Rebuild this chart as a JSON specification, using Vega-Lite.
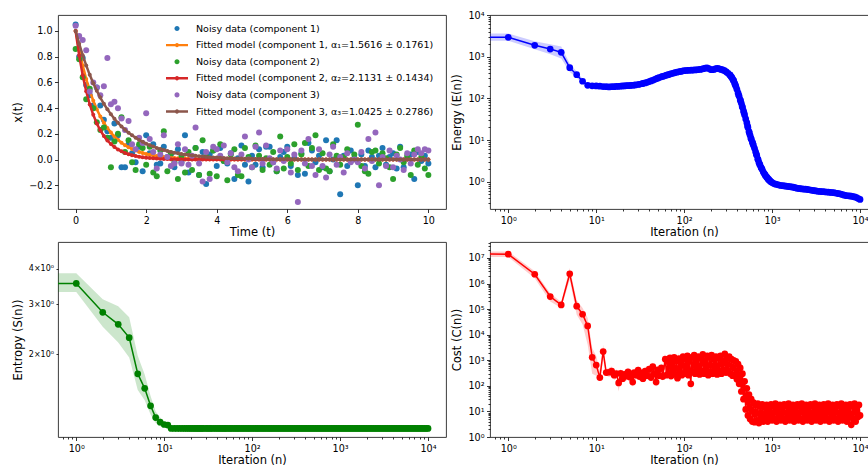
{
"$schema": "https://vega.github.io/schema/vega-lite/v6.json",
"padding": {"left": 11, "top": 9, "right": 0, "bottom": 0},
"bounds": "flush",
"columns": 2,
"spacing": {"row": 33, "column": 44},
"config": {
  "font": "DejaVu Sans",
  "view": {"stroke": "#262626", "strokeWidth": 0.9},
  "axis": {"domain": false, "grid": false, "tickColor": "#000", "tickWidth": 0.8, "tickSize": 3.5, "labelColor": "#000", "labelFontSize": 9.6, "labelFont": "DejaVu Sans", "labelPadding": 2.5, "titleFont": "DejaVu Sans", "titleFontSize": 11.5, "titleFontWeight": "normal", "titleColor": "#000", "titlePadding": 2, "labelOverlap": false},
  "axisY": {"titlePadding": 5},
  "legend": {"labelFont": "DejaVu Sans", "title": null, "orient": "none", "legendX": 108, "legendY": 2.5, "padding": 0, "rowPadding": 0.6, "symbolSize": 484, "labelOffset": 8, "labelFontSize": 9.5, "labelLimit": 600, "labelColor": "#000", "symbolOpacity": 1, "symbolStrokeWidth": 0}
},
"datasets": {
"ts": [
{"t":0,"n1":1.05,"n2":0.86,"n3":1.04,"f1":1,"f2":1,"f3":1},
{"t":0.1,"n1":0.8,"n2":0.78,"n3":0.96,"f1":0.855,"f2":0.81,"f3":0.901},
{"t":0.2,"n1":0.79,"n2":0.64,"n3":0.93,"f1":0.732,"f2":0.655,"f3":0.812},
{"t":0.3,"n1":0.58,"n2":0.47,"n3":0.85,"f1":0.626,"f2":0.531,"f3":0.732},
{"t":0.4,"n1":0.5,"n2":0.55,"n3":0.53,"f1":0.535,"f2":0.429,"f3":0.659},
{"t":0.5,"n1":0.42,"n2":0.4,"n3":0.6,"f1":0.458,"f2":0.348,"f3":0.594},
{"t":0.6,"n1":0.56,"n2":0.29,"n3":0.56,"f1":0.392,"f2":0.281,"f3":0.535},
{"t":0.7,"n1":0.42,"n2":0.23,"n3":0.5,"f1":0.335,"f2":0.228,"f3":0.482},
{"t":0.8,"n1":0.31,"n2":0.25,"n3":0.57,"f1":0.287,"f2":0.184,"f3":0.434},
{"t":0.9,"n1":0.22,"n2":0.17,"n3":0.79,"f1":0.245,"f2":0.149,"f3":0.391},
{"t":1.0,"n1":0.17,"n2":-0.06,"n3":0.43,"f1":0.21,"f2":0.121,"f3":0.353},
{"t":1.1,"n1":0.28,"n2":0.14,"n3":0.45,"f1":0.179,"f2":0.098,"f3":0.318},
{"t":1.2,"n1":0.19,"n2":0.2,"n3":0.4,"f1":0.154,"f2":0.079,"f3":0.286},
{"t":1.3,"n1":-0.06,"n2":0.33,"n3":0.32,"f1":0.131,"f2":0.064,"f3":0.258},
{"t":1.4,"n1":-0.06,"n2":0.06,"n3":0.23,"f1":0.112,"f2":0.052,"f3":0.232},
{"t":1.5,"n1":0.12,"n2":0.15,"n3":0.3,"f1":0.096,"f2":0.042,"f3":0.209},
{"t":1.6,"n1":0.05,"n2":-0.02,"n3":0.12,"f1":0.082,"f2":0.034,"f3":0.189},
{"t":1.7,"n1":-0.02,"n2":-0.08,"n3":0.08,"f1":0.07,"f2":0.028,"f3":0.17},
{"t":1.8,"n1":0.1,"n2":0.12,"n3":0.17,"f1":0.06,"f2":0.022,"f3":0.153},
{"t":1.9,"n1":-0.09,"n2":0.09,"n3":0.13,"f1":0.051,"f2":0.018,"f3":0.138},
{"t":2.0,"n1":0.19,"n2":-0.04,"n3":0.36,"f1":0.044,"f2":0.015,"f3":0.124},
{"t":2.1,"n1":0.05,"n2":0.1,"n3":0.16,"f1":0.038,"f2":0.012,"f3":0.112},
{"t":2.2,"n1":0.12,"n2":-0.1,"n3":0.06,"f1":0.032,"f2":0.01,"f3":0.101},
{"t":2.3,"n1":-0.04,"n2":-0.13,"n3":-0.07,"f1":0.028,"f2":0.008,"f3":0.091},
{"t":2.4,"n1":-0.03,"n2":0.07,"n3":0.04,"f1":0.024,"f2":0.006,"f3":0.082},
{"t":2.5,"n1":0.1,"n2":0.22,"n3":0.19,"f1":0.02,"f2":0.005,"f3":0.074},
{"t":2.6,"n1":0.02,"n2":-0.09,"n3":0.02,"f1":0.017,"f2":0.004,"f3":0.067},
{"t":2.7,"n1":0.04,"n2":0.05,"n3":-0.05,"f1":0.015,"f2":0.003,"f3":0.06},
{"t":2.8,"n1":-0.06,"n2":-0.02,"n3":-0.03,"f1":0.013,"f2":0.003,"f3":0.054},
{"t":2.9,"n1":0.08,"n2":-0.15,"n3":0.12,"f1":0.011,"f2":0.002,"f3":0.049},
{"t":3.0,"n1":-0.02,"n2":0.03,"n3":-0.03,"f1":0.009,"f2":0.002,"f3":0.044},
{"t":3.1,"n1":0.19,"n2":-0.1,"n3":0.08,"f1":0.008,"f2":0.001,"f3":0.04},
{"t":3.2,"n1":-0.1,"n2":0.06,"n3":-0.04,"f1":0.007,"f2":0.001,"f3":0.036},
{"t":3.3,"n1":0.01,"n2":-0.08,"n3":0.03,"f1":0.006,"f2":0.001,"f3":0.032},
{"t":3.4,"n1":0.09,"n2":0.09,"n3":0.25,"f1":0.005,"f2":0.001,"f3":0.029},
{"t":3.5,"n1":-0.12,"n2":-0.12,"n3":-0.03,"f1":0.004,"f2":0.001,"f3":0.026},
{"t":3.6,"n1":0.06,"n2":0.15,"n3":-0.17,"f1":0.004,"f2":0,"f3":0.024},
{"t":3.7,"n1":-0.19,"n2":0.02,"n3":0.06,"f1":0.003,"f2":0,"f3":0.021},
{"t":3.8,"n1":0.04,"n2":-0.11,"n3":-0.15,"f1":0.003,"f2":0,"f3":0.019},
{"t":3.9,"n1":0.07,"n2":0.07,"n3":0.1,"f1":0.002,"f2":0,"f3":0.017},
{"t":4.0,"n1":-0.05,"n2":-0.13,"n3":0.08,"f1":0.002,"f2":0,"f3":0.016},
{"t":4.1,"n1":0.09,"n2":0.12,"n3":0.03,"f1":0.002,"f2":0,"f3":0.014},
{"t":4.2,"n1":-0.01,"n2":-0.01,"n3":0.11,"f1":0.001,"f2":0,"f3":0.013},
{"t":4.3,"n1":-0.03,"n2":-0.16,"n3":-0.02,"f1":0.001,"f2":0,"f3":0.011},
{"t":4.4,"n1":0.05,"n2":0.04,"n3":0.05,"f1":0.001,"f2":0,"f3":0.01},
{"t":4.5,"n1":-0.15,"n2":0.08,"n3":-0.06,"f1":0.001,"f2":0,"f3":0.009},
{"t":4.6,"n1":0.01,"n2":-0.12,"n3":-0.09,"f1":0.001,"f2":0,"f3":0.008},
{"t":4.7,"n1":0.11,"n2":-0.13,"n3":0.04,"f1":0.001,"f2":0,"f3":0.008},
{"t":4.8,"n1":-0.04,"n2":0.09,"n3":0.18,"f1":0.001,"f2":0,"f3":0.007},
{"t":4.9,"n1":-0.17,"n2":0.02,"n3":0.0,"f1":0,"f2":0,"f3":0.006},
{"t":5.0,"n1":0.03,"n2":-0.06,"n3":-0.06,"f1":0,"f2":0,"f3":0.006},
{"t":5.1,"n1":-0.04,"n2":0.11,"n3":0.1,"f1":0,"f2":0,"f3":0.005},
{"t":5.2,"n1":0.08,"n2":0.03,"n3":0.21,"f1":0,"f2":0,"f3":0.004},
{"t":5.3,"n1":-0.06,"n2":-0.08,"n3":-0.03,"f1":0,"f2":0,"f3":0.004},
{"t":5.4,"n1":0.1,"n2":0.01,"n3":0.11,"f1":0,"f2":0,"f3":0.004},
{"t":5.5,"n1":0.1,"n2":-0.04,"n3":0.01,"f1":0,"f2":0,"f3":0.003},
{"t":5.6,"n1":-0.02,"n2":0.06,"n3":-0.02,"f1":0,"f2":0,"f3":0.003},
{"t":5.7,"n1":-0.09,"n2":-0.09,"n3":-0.07,"f1":0,"f2":0,"f3":0.003},
{"t":5.8,"n1":0.02,"n2":0.18,"n3":0.07,"f1":0,"f2":0,"f3":0.002},
{"t":5.9,"n1":0.06,"n2":-0.07,"n3":-0.01,"f1":0,"f2":0,"f3":0.002},
{"t":6.0,"n1":0.1,"n2":0.02,"n3":0.08,"f1":0,"f2":0,"f3":0.002},
{"t":6.1,"n1":-0.05,"n2":-0.03,"n3":-0.1,"f1":0,"f2":0,"f3":0.002},
{"t":6.2,"n1":0.01,"n2":0.12,"n3":0.04,"f1":0,"f2":0,"f3":0.002},
{"t":6.3,"n1":-0.12,"n2":-0.08,"n3":-0.33,"f1":0,"f2":0,"f3":0.001},
{"t":6.4,"n1":0.05,"n2":0.04,"n3":0.07,"f1":0,"f2":0,"f3":0.001},
{"t":6.5,"n1":-0.11,"n2":0.13,"n3":-0.03,"f1":0,"f2":0,"f3":0.001},
{"t":6.6,"n1":0.13,"n2":-0.05,"n3":0.16,"f1":0,"f2":0,"f3":0.001},
{"t":6.7,"n1":0.07,"n2":0.09,"n3":-0.05,"f1":0,"f2":0,"f3":0.001},
{"t":6.8,"n1":-0.02,"n2":0.19,"n3":-0.12,"f1":0,"f2":0,"f3":0.001},
{"t":6.9,"n1":0.03,"n2":-0.08,"n3":0.08,"f1":0,"f2":0,"f3":0.001},
{"t":7.0,"n1":-0.06,"n2":0.05,"n3":-0.05,"f1":0,"f2":0,"f3":0.001},
{"t":7.1,"n1":0.15,"n2":-0.07,"n3":-0.14,"f1":0,"f2":0,"f3":0},
{"t":7.2,"n1":-0.09,"n2":-0.09,"n3":0.04,"f1":0,"f2":0,"f3":0},
{"t":7.3,"n1":0.0,"n2":0.12,"n3":0.1,"f1":0,"f2":0,"f3":0},
{"t":7.4,"n1":0.15,"n2":0.03,"n3":-0.04,"f1":0,"f2":0,"f3":0},
{"t":7.5,"n1":-0.27,"n2":-0.04,"n3":0.02,"f1":0,"f2":0,"f3":0},
{"t":7.6,"n1":0.03,"n2":0.02,"n3":-0.1,"f1":0,"f2":0,"f3":0},
{"t":7.7,"n1":-0.05,"n2":0.08,"n3":0.05,"f1":0,"f2":0,"f3":0},
{"t":7.8,"n1":0.07,"n2":-0.01,"n3":-0.02,"f1":0,"f2":0,"f3":0},
{"t":7.9,"n1":0.01,"n2":0.04,"n3":0.0,"f1":0,"f2":0,"f3":0},
{"t":8.0,"n1":-0.2,"n2":0.27,"n3":-0.02,"f1":0,"f2":0,"f3":0},
{"t":8.1,"n1":0.04,"n2":-0.05,"n3":0.06,"f1":0,"f2":0,"f3":0},
{"t":8.2,"n1":-0.05,"n2":-0.09,"n3":-0.07,"f1":0,"f2":0,"f3":0},
{"t":8.3,"n1":0.07,"n2":-0.11,"n3":0.16,"f1":0,"f2":0,"f3":0},
{"t":8.4,"n1":0.02,"n2":0.06,"n3":-0.01,"f1":0,"f2":0,"f3":0},
{"t":8.5,"n1":-0.06,"n2":0.07,"n3":0.21,"f1":0,"f2":0,"f3":0},
{"t":8.6,"n1":0.03,"n2":-0.03,"n3":-0.2,"f1":0,"f2":0,"f3":0},
{"t":8.7,"n1":0.09,"n2":0.05,"n3":0.02,"f1":0,"f2":0,"f3":0},
{"t":8.8,"n1":-0.04,"n2":0.01,"n3":-0.05,"f1":0,"f2":0,"f3":0},
{"t":8.9,"n1":0.02,"n2":-0.06,"n3":0.07,"f1":0,"f2":0,"f3":0},
{"t":9.0,"n1":0.05,"n2":-0.15,"n3":-0.06,"f1":0,"f2":0,"f3":0},
{"t":9.1,"n1":-0.07,"n2":0.04,"n3":0.03,"f1":0,"f2":0,"f3":0},
{"t":9.2,"n1":0.1,"n2":0.09,"n3":0.0,"f1":0,"f2":0,"f3":0},
{"t":9.3,"n1":-0.06,"n2":-0.02,"n3":-0.08,"f1":0,"f2":0,"f3":0},
{"t":9.4,"n1":0.01,"n2":0.03,"n3":0.05,"f1":0,"f2":0,"f3":0},
{"t":9.5,"n1":0.04,"n2":-0.12,"n3":-0.03,"f1":0,"f2":0,"f3":0},
{"t":9.6,"n1":-0.15,"n2":0.07,"n3":0.04,"f1":0,"f2":0,"f3":0},
{"t":9.7,"n1":0.06,"n2":-0.04,"n3":0.08,"f1":0,"f2":0,"f3":0},
{"t":9.8,"n1":-0.01,"n2":0.02,"n3":0.05,"f1":0,"f2":0,"f3":0},
{"t":9.9,"n1":0.03,"n2":-0.07,"n3":0.08,"f1":0,"f2":0,"f3":0},
{"t":10.0,"n1":-0.03,"n2":-0.12,"n3":0.07,"f1":0,"f2":0,"f3":0}
],
"energyBand": [
{"n":0.5,"lo":2420,"hi":3600},{"n":1,"lo":2420,"hi":3600},{"n":2,"lo":1500,"hi":2350},{"n":3,"lo":1150,"hi":2000},{"n":4,"lo":900,"hi":1750},{"n":5,"lo":430,"hi":690},{"n":6,"lo":310,"hi":440},{"n":7,"lo":225,"hi":295},{"n":8,"lo":190,"hi":222},{"n":9,"lo":188,"hi":213},{"n":10,"lo":186,"hi":210},{"n":11,"lo":184,"hi":208},{"n":12,"lo":180,"hi":204},{"n":13,"lo":178,"hi":202}
],
"energy": [
{"n":0.5,"v":2920},{"n":1,"v":2920},{"n":2,"v":1870},{"n":3,"v":1520},{"n":4,"v":1270},{"n":5,"v":545},{"n":6,"v":370},{"n":7,"v":257},{"n":8,"v":205},{"n":9,"v":200},{"n":10,"v":198},{"n":11,"v":196},{"n":12,"v":192},{"n":13,"v":190},
{"n":14,"v":188},{"n":15,"v":190},{"n":16,"v":191},{"n":17,"v":193},{"n":18,"v":194},{"n":19,"v":196},{"n":20,"v":198},{"n":21,"v":199},{"n":22,"v":201},{"n":23,"v":202},{"n":24,"v":203},{"n":25,"v":205},{"n":26,"v":206},{"n":27,"v":208},{"n":28,"v":210},
{"n":30,"v":215},{"n":31,"v":218},{"n":33,"v":224},{"n":34,"v":228},{"n":36,"v":235},{"n":38,"v":243},{"n":40,"v":252},{"n":42,"v":262},{"n":44,"v":272},{"n":46,"v":283},{"n":48,"v":295},{"n":50,"v":305},{"n":52,"v":315},{"n":55,"v":328},{"n":57,"v":336},{"n":60,"v":348},{"n":63,"v":360},{"n":66,"v":370},{"n":69,"v":382},{"n":72,"v":392},{"n":76,"v":405},{"n":79,"v":415},{"n":83,"v":425},{"n":87,"v":435},{"n":91,"v":443},{"n":95,"v":452},{"n":100,"v":460},
{"n":105,"v":466},{"n":110,"v":470},{"n":115,"v":472},{"n":120,"v":475},{"n":126,"v":478},{"n":132,"v":480},{"n":138,"v":484},{"n":145,"v":490},{"n":152,"v":495},{"n":159,"v":505},{"n":166,"v":515},{"n":174,"v":530},{"n":182,"v":540},{"n":191,"v":520},{"n":200,"v":490},{"n":209,"v":485},{"n":219,"v":495},{"n":229,"v":515},{"n":240,"v":525},{"n":251,"v":510},{"n":263,"v":495},{"n":275,"v":480},{"n":288,"v":460},{"n":302,"v":430},
{"n":316,"v":400},{"n":331,"v":365},{"n":335,"v":355},{"n":345,"v":325},{"n":347,"v":320},{"n":355,"v":295},{"n":363,"v":270},{"n":365,"v":265},{"n":376,"v":228},{"n":380,"v":215},{"n":387,"v":195},{"n":398,"v":165},{"n":410,"v":135},{"n":417,"v":120},{"n":422,"v":112},{"n":434,"v":92},{"n":437,"v":88},{"n":447,"v":76},{"n":457,"v":64},{"n":460,"v":61},{"n":473,"v":50},{"n":479,"v":45},{"n":487,"v":40},{"n":501,"v":32},{"n":516,"v":26},{"n":525,"v":22},{"n":531,"v":20},{"n":546,"v":16},{"n":550,"v":15},{"n":562,"v":13},{"n":575,"v":11},{"n":579,"v":10.5},{"n":596,"v":8.9},{"n":603,"v":8.3},{"n":613,"v":7.5},{"n":631,"v":6.3},{"n":649,"v":5.2},{"n":661,"v":4.6},{"n":668,"v":4.3},{"n":688,"v":3.5},{"n":692,"v":3.4},{"n":708,"v":2.9},{"n":724,"v":2.6},{"n":729,"v":2.5},{"n":750,"v":2.2},{"n":759,"v":2.1},{"n":772,"v":1.95},{"n":794,"v":1.7},{"n":818,"v":1.55},{"n":832,"v":1.45},{"n":841,"v":1.4},{"n":866,"v":1.29},{"n":871,"v":1.27},{"n":891,"v":1.2},{"n":912,"v":1.13},{"n":917,"v":1.12},{"n":944,"v":1.05},{"n":955,"v":1.02},{"n":972,"v":0.99},{"n":1000,"v":0.95},
{"n":1047,"v":0.9},{"n":1096,"v":0.87},{"n":1148,"v":0.85},{"n":1202,"v":0.83},{"n":1259,"v":0.81},{"n":1318,"v":0.8},{"n":1380,"v":0.79},{"n":1445,"v":0.78},{"n":1514,"v":0.77},{"n":1585,"v":0.76},{"n":1660,"v":0.75},{"n":1738,"v":0.74},{"n":1820,"v":0.72},{"n":1905,"v":0.7},{"n":1995,"v":0.69},{"n":2089,"v":0.68},{"n":2188,"v":0.67},{"n":2291,"v":0.665},{"n":2399,"v":0.66},{"n":2512,"v":0.65},{"n":2630,"v":0.64},{"n":2754,"v":0.63},{"n":2884,"v":0.62},{"n":3020,"v":0.61},{"n":3162,"v":0.6},{"n":3311,"v":0.59},{"n":3467,"v":0.585},{"n":3631,"v":0.58},{"n":3802,"v":0.575},{"n":3981,"v":0.57},{"n":4169,"v":0.565},{"n":4365,"v":0.56},{"n":4571,"v":0.555},{"n":4786,"v":0.55},{"n":5012,"v":0.545},{"n":5248,"v":0.535},{"n":5495,"v":0.525},{"n":5754,"v":0.515},{"n":6026,"v":0.505},{"n":6310,"v":0.49},{"n":6607,"v":0.475},{"n":6918,"v":0.465},{"n":7244,"v":0.46},{"n":7586,"v":0.455},{"n":7943,"v":0.45},{"n":8318,"v":0.44},{"n":8710,"v":0.43},{"n":9120,"v":0.415},{"n":9550,"v":0.395},{"n":10000,"v":0.375}
],
"entropyBand": [
{"n":0.5,"lo":3.31,"hi":3.85},{"n":1,"lo":3.31,"hi":3.85},{"n":2,"lo":2.5,"hi":3.12},{"n":3,"lo":2.2,"hi":2.95},{"n":4,"lo":1.95,"hi":2.7},{"n":5,"lo":1.5,"hi":1.98},{"n":6,"lo":1.38,"hi":1.7},{"n":7,"lo":1.23,"hi":1.43},{"n":8,"lo":1.15,"hi":1.26},{"n":9,"lo":1.12,"hi":1.2},{"n":10,"lo":1.11,"hi":1.16},{"n":11,"lo":1.105,"hi":1.15},{"n":12,"lo":1.1,"hi":1.1}
],
"entropy": [
{"n":0.5,"v":3.55},{"n":1,"v":3.55},{"n":2,"v":2.81},{"n":3,"v":2.55},{"n":4,"v":2.29},{"n":5,"v":1.71},{"n":6,"v":1.52},{"n":7,"v":1.32},{"n":8,"v":1.2},{"n":9,"v":1.157},{"n":10,"v":1.135},{"n":11,"v":1.13},{"n":12,"v":1.1},{"n":13,"v":1.1},
{"n":14,"v":1.1},{"n":15,"v":1.1},{"n":16,"v":1.1},{"n":17,"v":1.1},{"n":18,"v":1.1},{"n":19,"v":1.1},{"n":20,"v":1.1},{"n":21,"v":1.1},{"n":22,"v":1.1},{"n":23,"v":1.1},{"n":24,"v":1.1},{"n":25,"v":1.1},{"n":26,"v":1.1},{"n":27,"v":1.1},{"n":28,"v":1.1},
{"n":30,"v":1.1},{"n":31,"v":1.1},{"n":33,"v":1.1},{"n":34,"v":1.1},{"n":36,"v":1.1},{"n":38,"v":1.1},{"n":40,"v":1.1},{"n":42,"v":1.1},{"n":44,"v":1.1},{"n":46,"v":1.1},{"n":48,"v":1.1},{"n":50,"v":1.1},{"n":52,"v":1.1},{"n":55,"v":1.1},{"n":57,"v":1.1},{"n":60,"v":1.1},{"n":63,"v":1.1},{"n":66,"v":1.1},{"n":69,"v":1.1},{"n":72,"v":1.1},{"n":76,"v":1.1},{"n":79,"v":1.1},{"n":83,"v":1.1},{"n":87,"v":1.1},{"n":91,"v":1.1},{"n":95,"v":1.1},{"n":100,"v":1.1},
{"n":105,"v":1.1},{"n":110,"v":1.1},{"n":115,"v":1.1},{"n":120,"v":1.1},{"n":126,"v":1.1},{"n":132,"v":1.1},{"n":138,"v":1.1},{"n":145,"v":1.1},{"n":152,"v":1.1},{"n":159,"v":1.1},{"n":166,"v":1.1},{"n":174,"v":1.1},{"n":182,"v":1.1},{"n":191,"v":1.1},{"n":200,"v":1.1},{"n":209,"v":1.1},{"n":219,"v":1.1},{"n":229,"v":1.1},{"n":240,"v":1.1},{"n":251,"v":1.1},{"n":263,"v":1.1},{"n":275,"v":1.1},{"n":288,"v":1.1},{"n":302,"v":1.1},{"n":316,"v":1.1},{"n":331,"v":1.1},{"n":347,"v":1.1},{"n":363,"v":1.1},{"n":380,"v":1.1},{"n":398,"v":1.1},{"n":417,"v":1.1},{"n":437,"v":1.1},{"n":457,"v":1.1},{"n":479,"v":1.1},{"n":501,"v":1.1},{"n":525,"v":1.1},{"n":550,"v":1.1},{"n":575,"v":1.1},{"n":603,"v":1.1},{"n":631,"v":1.1},{"n":661,"v":1.1},{"n":692,"v":1.1},{"n":724,"v":1.1},{"n":759,"v":1.1},{"n":794,"v":1.1},{"n":832,"v":1.1},{"n":871,"v":1.1},{"n":912,"v":1.1},{"n":955,"v":1.1},{"n":1000,"v":1.1},
{"n":1047,"v":1.1},{"n":1096,"v":1.1},{"n":1148,"v":1.1},{"n":1202,"v":1.1},{"n":1259,"v":1.1},{"n":1318,"v":1.1},{"n":1380,"v":1.1},{"n":1445,"v":1.1},{"n":1514,"v":1.1},{"n":1585,"v":1.1},{"n":1660,"v":1.1},{"n":1738,"v":1.1},{"n":1820,"v":1.1},{"n":1905,"v":1.1},{"n":1995,"v":1.1},{"n":2089,"v":1.1},{"n":2188,"v":1.1},{"n":2291,"v":1.1},{"n":2399,"v":1.1},{"n":2512,"v":1.1},{"n":2630,"v":1.1},{"n":2754,"v":1.1},{"n":2884,"v":1.1},{"n":3020,"v":1.1},{"n":3162,"v":1.1},{"n":3311,"v":1.1},{"n":3467,"v":1.1},{"n":3631,"v":1.1},{"n":3802,"v":1.1},{"n":3981,"v":1.1},{"n":4169,"v":1.1},{"n":4365,"v":1.1},{"n":4571,"v":1.1},{"n":4786,"v":1.1},{"n":5012,"v":1.1},{"n":5248,"v":1.1},{"n":5495,"v":1.1},{"n":5754,"v":1.1},{"n":6026,"v":1.1},{"n":6310,"v":1.1},{"n":6607,"v":1.1},{"n":6918,"v":1.1},{"n":7244,"v":1.1},{"n":7586,"v":1.1},{"n":7943,"v":1.1},{"n":8318,"v":1.1},{"n":8710,"v":1.1},{"n":9120,"v":1.1},{"n":9550,"v":1.1},{"n":10000,"v":1.1}
],
"costBand": [
{"n":0.5,"lo":11000000,"hi":18000000},{"n":1,"lo":11000000,"hi":18000000},{"n":2,"lo":1600000,"hi":3000000},{"n":3,"lo":200000,"hi":420000},{"n":4,"lo":110000,"hi":190000},{"n":5,"lo":1400000,"hi":4000000},{"n":6,"lo":60000,"hi":220000},{"n":7,"lo":25000,"hi":110000},{"n":8,"lo":4000,"hi":45000},{"n":9,"lo":300,"hi":3000},{"n":10,"lo":250,"hi":1500},{"n":11,"lo":150,"hi":400},{"n":12,"lo":1000,"hi":4000},{"n":13,"lo":250,"hi":450},
{"n":14,"lo":220,"hi":510},{"n":15,"lo":250,"hi":570},{"n":16,"lo":170,"hi":390},{"n":17,"lo":195,"hi":450},{"n":18,"lo":60,"hi":200},{"n":19,"lo":200,"hi":465},{"n":20,"lo":125,"hi":285},{"n":21,"lo":180,"hi":420},{"n":22,"lo":155,"hi":360},{"n":23,"lo":230,"hi":525},{"n":24,"lo":145,"hi":330},{"n":25,"lo":190,"hi":435},{"n":26,"lo":90,"hi":210},{"n":27,"lo":215,"hi":495},{"n":28,"lo":170,"hi":390},
{"n":30,"lo":265,"hi":615},{"n":31,"lo":150,"hi":345},{"n":33,"lo":210,"hi":480},{"n":34,"lo":125,"hi":285},{"n":36,"lo":245,"hi":570},{"n":38,"lo":160,"hi":375},{"n":40,"lo":290,"hi":675},{"n":42,"lo":135,"hi":315},{"n":44,"lo":365,"hi":840},{"n":46,"lo":195,"hi":450},{"n":48,"lo":90,"hi":210},{"n":50,"lo":275,"hi":630},{"n":52,"lo":160,"hi":375},{"n":55,"lo":325,"hi":750},{"n":57,"lo":150,"hi":345},{"n":60,"lo":780,"hi":1800},{"n":63,"lo":195,"hi":450},{"n":66,"lo":620,"hi":1425},{"n":69,"lo":145,"hi":330},{"n":72,"lo":715,"hi":1650},{"n":76,"lo":230,"hi":525},{"n":79,"lo":520,"hi":1200},{"n":83,"lo":170,"hi":390},{"n":87,"lo":845,"hi":1950},{"n":91,"lo":275,"hi":630},{"n":95,"lo":650,"hi":1500},{"n":100,"lo":195,"hi":450},
{"n":105,"lo":975,"hi":2250},{"n":110,"lo":260,"hi":600},{"n":115,"lo":585,"hi":1350},{"n":120,"lo":60,"hi":180},{"n":126,"lo":910,"hi":2100},{"n":132,"lo":230,"hi":525},{"n":138,"lo":715,"hi":1650},{"n":145,"lo":180,"hi":420},{"n":152,"lo":1040,"hi":2400},{"n":159,"lo":290,"hi":675},{"n":166,"lo":780,"hi":1800},{"n":174,"lo":195,"hi":450},{"n":182,"lo":910,"hi":2100},{"n":191,"lo":325,"hi":750},{"n":200,"lo":650,"hi":1500},{"n":209,"lo":170,"hi":390},{"n":219,"lo":975,"hi":2250},{"n":229,"lo":260,"hi":600},{"n":240,"lo":780,"hi":1800},{"n":251,"lo":195,"hi":450},{"n":263,"lo":845,"hi":1950},{"n":275,"lo":290,"hi":675},{"n":288,"lo":1100,"hi":2550},{"n":302,"lo":230,"hi":525},{"n":316,"lo":715,"hi":1650},{"n":331,"lo":325,"hi":750},{"n":347,"lo":780,"hi":1800},{"n":363,"lo":195,"hi":450},{"n":380,"lo":585,"hi":1350},{"n":398,"lo":130,"hi":300},{"n":417,"lo":455,"hi":1050},{"n":437,"lo":52,"hi":120},{"n":457,"lo":230,"hi":525},{"n":479,"lo":20,"hi":45},{"n":501,"lo":78,"hi":180},{"n":525,"lo":5.9,"hi":13.5},{"n":550,"lo":29,"hi":68},{"n":575,"lo":3.9,"hi":9},{"n":603,"lo":14,"hi":33},{"n":631,"lo":2.6,"hi":6},{"n":661,"lo":9.8,"hi":22.5},{"n":692,"lo":3.3,"hi":7.5},{"n":724,"lo":11.7,"hi":27},{"n":759,"lo":2.3,"hi":5.3},{"n":794,"lo":9.1,"hi":21},{"n":832,"lo":3.3,"hi":7.5},{"n":871,"lo":11,"hi":25.5},{"n":912,"lo":2.6,"hi":6},{"n":955,"lo":7.8,"hi":18},{"n":1000,"lo":3.9,"hi":9},
{"n":1047,"lo":12.4,"hi":28.5},{"n":1096,"lo":3.3,"hi":7.5},{"n":1148,"lo":9.8,"hi":22.5},{"n":1202,"lo":2.9,"hi":6.8},{"n":1259,"lo":11.7,"hi":27},{"n":1318,"lo":3.9,"hi":9},{"n":1380,"lo":9.1,"hi":21},{"n":1445,"lo":2.6,"hi":6},{"n":1514,"lo":13,"hi":30},{"n":1585,"lo":4.6,"hi":10.5},{"n":1660,"lo":10.4,"hi":24},{"n":1738,"lo":2.9,"hi":6.8},{"n":1820,"lo":8.5,"hi":19.5},{"n":1905,"lo":3.3,"hi":7.5},{"n":1995,"lo":12.4,"hi":28.5},{"n":2089,"lo":3.9,"hi":9},{"n":2188,"lo":9.8,"hi":22.5},{"n":2291,"lo":2.6,"hi":6},{"n":2399,"lo":11,"hi":25.5},{"n":2512,"lo":3.6,"hi":8.3},{"n":2630,"lo":9.1,"hi":21},{"n":2754,"lo":2.9,"hi":6.8},{"n":2884,"lo":13,"hi":30},{"n":3020,"lo":3.9,"hi":9},{"n":3162,"lo":10.4,"hi":24},{"n":3311,"lo":2.6,"hi":6},{"n":3467,"lo":11.7,"hi":27},{"n":3631,"lo":3.3,"hi":7.5},{"n":3802,"lo":8.5,"hi":19.5},{"n":3981,"lo":2.9,"hi":6.8},{"n":4169,"lo":12.4,"hi":28.5},{"n":4365,"lo":3.9,"hi":9},{"n":4571,"lo":9.8,"hi":22.5},{"n":4786,"lo":2.6,"hi":6},{"n":5012,"lo":11,"hi":25.5},{"n":5248,"lo":3.3,"hi":7.5},{"n":5495,"lo":9.1,"hi":21},{"n":5754,"lo":2.9,"hi":6.8},{"n":6026,"lo":13,"hi":30},{"n":6310,"lo":3.9,"hi":9},{"n":6607,"lo":10.4,"hi":24},{"n":6918,"lo":2.6,"hi":6},{"n":7244,"lo":11.7,"hi":27},{"n":7586,"lo":3.6,"hi":8.3},{"n":7943,"lo":2,"hi":4.5},{"n":8318,"lo":9.8,"hi":22.5},{"n":8710,"lo":2.9,"hi":6.8},{"n":9120,"lo":12.4,"hi":28.5},{"n":9550,"lo":3.9,"hi":9},{"n":10000,"lo":7.8,"hi":18}
],
"cost": [
{"n":0.5,"v":14500000},{"n":1,"v":14000000},{"n":2,"v":2300000},{"n":3,"v":310000},{"n":4,"v":146000},{"n":5,"v":2400000},{"n":6,"v":130000},{"n":7,"v":63000},{"n":8,"v":22000},{"n":9,"v":1300},{"n":10,"v":650},{"n":11,"v":210},{"n":12,"v":2200},{"n":13,"v":330},
{"n":14,"v":340},{"n":15,"v":380},{"n":16,"v":260},{"n":17,"v":300},{"n":18,"v":130},{"n":19,"v":310},{"n":20,"v":190},{"n":21,"v":280},{"n":22,"v":240},{"n":23,"v":350},{"n":24,"v":220},{"n":25,"v":290},{"n":26,"v":140},{"n":27,"v":330},{"n":28,"v":260},
{"n":30,"v":410},{"n":31,"v":230},{"n":33,"v":320},{"n":34,"v":190},{"n":36,"v":380},{"n":38,"v":250},{"n":40,"v":450},{"n":42,"v":210},{"n":44,"v":560},{"n":46,"v":300},{"n":48,"v":140},{"n":50,"v":420},{"n":52,"v":250},{"n":55,"v":500},{"n":57,"v":230},
{"n":61,"v":1100},{"n":63,"v":260},{"n":65,"v":900},{"n":67,"v":330},{"n":69,"v":1250},{"n":71,"v":240},{"n":73,"v":800},{"n":75,"v":380},{"n":77,"v":1300},{"n":79,"v":280},{"n":82,"v":950},{"n":84,"v":200},{"n":87,"v":1150},{"n":89,"v":350},{"n":92,"v":1000},{"n":94,"v":260},{"n":97,"v":1400},
{"n":100,"v":300},{"n":103,"v":1100},{"n":106,"v":420},{"n":109,"v":1500},{"n":112,"v":260},{"n":115,"v":900},{"n":119,"v":120},{"n":122,"v":1300},{"n":126,"v":350},{"n":130,"v":1600},{"n":133,"v":300},{"n":137,"v":1000},{"n":141,"v":450},{"n":145,"v":1400},{"n":150,"v":280},{"n":154,"v":1200},{"n":158,"v":380},{"n":163,"v":1700},{"n":168,"v":300},{"n":173,"v":1000},{"n":178,"v":420},{"n":183,"v":1500},{"n":188,"v":260},{"n":194,"v":1300},{"n":200,"v":350},{"n":205,"v":1600},{"n":211,"v":300},{"n":218,"v":1100},{"n":224,"v":450},{"n":230,"v":1400},{"n":237,"v":280},{"n":244,"v":1200},{"n":251,"v":380},{"n":259,"v":1500},{"n":266,"v":300},{"n":274,"v":1000},{"n":282,"v":420},{"n":290,"v":1800},{"n":299,"v":330},{"n":307,"v":1200},{"n":316,"v":380},{"n":325,"v":1400},{"n":335,"v":300},{"n":345,"v":1100},{"n":355,"v":250},{"n":365,"v":1000},{"n":376,"v":260},{"n":387,"v":900},{"n":398,"v":180},{"n":410,"v":700},{"n":422,"v":120},{"n":434,"v":500},{"n":447,"v":60},{"n":460,"v":300},{"n":473,"v":30},{"n":487,"v":150},{"n":501,"v":12},{"n":516,"v":80},{"n":531,"v":7},{"n":546,"v":45},{"n":562,"v":5},{"n":579,"v":30},{"n":596,"v":4},{"n":613,"v":22},{"n":631,"v":3.8},{"n":649,"v":18},{"n":668,"v":4.5},{"n":688,"v":20},{"n":708,"v":3.5},{"n":729,"v":16},{"n":750,"v":5},{"n":772,"v":19},{"n":794,"v":4},{"n":818,"v":15},{"n":841,"v":5.5},{"n":866,"v":18},{"n":891,"v":4},{"n":917,"v":14},{"n":944,"v":6},{"n":972,"v":19},
{"n":1000,"v":4.5},{"n":1029,"v":16},{"n":1059,"v":5},{"n":1090,"v":20},{"n":1122,"v":4},{"n":1155,"v":15},{"n":1189,"v":6},{"n":1223,"v":18},{"n":1259,"v":4.5},{"n":1296,"v":14},{"n":1334,"v":5},{"n":1372,"v":19},{"n":1413,"v":4},{"n":1454,"v":16},{"n":1496,"v":6},{"n":1540,"v":20},{"n":1585,"v":4.5},{"n":1631,"v":15},{"n":1679,"v":5.5},{"n":1728,"v":18},{"n":1778,"v":4},{"n":1830,"v":13},{"n":1884,"v":6},{"n":1939,"v":19},{"n":1995,"v":4.5},{"n":2054,"v":16},{"n":2113,"v":5},{"n":2175,"v":20},{"n":2239,"v":4},{"n":2304,"v":15},{"n":2371,"v":6},{"n":2441,"v":18},{"n":2512,"v":4.5},{"n":2585,"v":14},{"n":2661,"v":5},{"n":2738,"v":19},{"n":2818,"v":4},{"n":2901,"v":16},{"n":2985,"v":6},{"n":3073,"v":20},{"n":3162,"v":4.5},{"n":3255,"v":15},{"n":3350,"v":5.5},{"n":3447,"v":18},{"n":3548,"v":4},{"n":3652,"v":13},{"n":3758,"v":6},{"n":3868,"v":19},{"n":3981,"v":4.5},{"n":4097,"v":16},{"n":4217,"v":5},{"n":4340,"v":20},{"n":4467,"v":4},{"n":4597,"v":15},{"n":4732,"v":6},{"n":4870,"v":18},{"n":5012,"v":4.5},{"n":5158,"v":14},{"n":5309,"v":5},{"n":5464,"v":19},{"n":5623,"v":4},{"n":5788,"v":16},{"n":5957,"v":6},{"n":6131,"v":20},{"n":6310,"v":4.5},{"n":6494,"v":15},{"n":6683,"v":5.5},{"n":6879,"v":18},{"n":7079,"v":4},{"n":7286,"v":13},{"n":7499,"v":6},{"n":7718,"v":19},{"n":7943,"v":3},{"n":8175,"v":16},{"n":8414,"v":5},{"n":8660,"v":20},{"n":8913,"v":4},{"n":9173,"v":15},{"n":9441,"v":6},{"n":9716,"v":18},{"n":10000,"v":7}
]
},
"concat": [
{
  "width": 388, "height": 194,
  "data": {"name": "ts"},
  "encoding": {
    "x": {"field": "t", "type": "quantitative", "title": "Time (t)", "scale": {"domain": [-0.5, 10.5], "nice": false, "zero": false}, "axis": {"values": [0, 2, 4, 6, 8, 10], "format": "d", "labelOverlap": false}}
  },
  "layer": [
    {"mark": {"type": "circle", "size": 36, "opacity": 1},
     "encoding": {
       "y": {"field": "n1", "type": "quantitative", "title": "x(t)", "scale": {"domain": [-0.384, 1.124], "nice": false, "zero": false}, "axis": {"values": [-0.2, 0, 0.2, 0.4, 0.6, 0.8, 1.0], "format": ".1f", "labelOverlap": false, "tickCount": 7}},
       "color": {"datum": "Noisy data (component 1)", "type": "nominal",
         "scale": {"domain": ["Noisy data (component 1)", "Fitted model (component 1, α₁=1.5616 ± 0.1761)", "Noisy data (component 2)", "Fitted model (component 2, α₂=2.1131 ± 0.1434)", "Noisy data (component 3)", "Fitted model (component 3, α₃=1.0425 ± 0.2786)"],
                   "range": ["#1f77b4", "#ff7f0e", "#2ca02c", "#d62728", "#9467bd", "#8c564b"]},
         "legend": {"title": null, "orient": "none", "legendX": 108, "legendY": 2.5,
           "encode": {"symbols": {"update": {
             "shape": {"signal": "indexof(datum.label, 'Fitted') >= 0 ? 'M-1,-0.11L1,-0.11L1,0.11L-1,0.11Z M-0.2,0A0.2,0.2,0,1,1,0.2,0A0.2,0.2,0,1,1,-0.2,0Z' : 'M-0.23,0A0.23,0.23,0,1,1,0.23,0A0.23,0.23,0,1,1,-0.23,0Z'"}
           }}}}}
     }},
    {"mark": {"type": "line", "strokeWidth": 2.5, "point": {"filled": true, "size": 16}},
     "encoding": {"y": {"field": "f1", "type": "quantitative", "title": "x(t)", "scale": {"domain": [-0.384, 1.124], "nice": false, "zero": false}, "axis": {"values": [-0.2, 0, 0.2, 0.4, 0.6, 0.8, 1.0], "format": ".1f", "labelOverlap": false, "tickCount": 7}},
       "color": {"datum": "Fitted model (component 1, α₁=1.5616 ± 0.1761)", "type": "nominal",
         "legend": {"title": null, "orient": "none", "legendX": 108, "legendY": 2.5,
           "encode": {"symbols": {"update": {
             "shape": {"signal": "indexof(datum.label, 'Fitted') >= 0 ? 'M-1,-0.11L1,-0.11L1,0.11L-1,0.11Z M-0.2,0A0.2,0.2,0,1,1,0.2,0A0.2,0.2,0,1,1,-0.2,0Z' : 'M-0.23,0A0.23,0.23,0,1,1,0.23,0A0.23,0.23,0,1,1,-0.23,0Z'"}
           }}}}}}},
    {"mark": {"type": "circle", "size": 36, "opacity": 1},
     "encoding": {"y": {"field": "n2", "type": "quantitative", "title": "x(t)", "scale": {"domain": [-0.384, 1.124], "nice": false, "zero": false}, "axis": {"values": [-0.2, 0, 0.2, 0.4, 0.6, 0.8, 1.0], "format": ".1f", "labelOverlap": false, "tickCount": 7}},
       "color": {"datum": "Noisy data (component 2)", "type": "nominal",
         "legend": {"title": null, "orient": "none", "legendX": 108, "legendY": 2.5,
           "encode": {"symbols": {"update": {
             "shape": {"signal": "indexof(datum.label, 'Fitted') >= 0 ? 'M-1,-0.11L1,-0.11L1,0.11L-1,0.11Z M-0.2,0A0.2,0.2,0,1,1,0.2,0A0.2,0.2,0,1,1,-0.2,0Z' : 'M-0.23,0A0.23,0.23,0,1,1,0.23,0A0.23,0.23,0,1,1,-0.23,0Z'"}
           }}}}}}},
    {"mark": {"type": "line", "strokeWidth": 2.5, "point": {"filled": true, "size": 16}},
     "encoding": {"y": {"field": "f2", "type": "quantitative", "title": "x(t)", "scale": {"domain": [-0.384, 1.124], "nice": false, "zero": false}, "axis": {"values": [-0.2, 0, 0.2, 0.4, 0.6, 0.8, 1.0], "format": ".1f", "labelOverlap": false, "tickCount": 7}},
       "color": {"datum": "Fitted model (component 2, α₂=2.1131 ± 0.1434)", "type": "nominal",
         "legend": {"title": null, "orient": "none", "legendX": 108, "legendY": 2.5,
           "encode": {"symbols": {"update": {
             "shape": {"signal": "indexof(datum.label, 'Fitted') >= 0 ? 'M-1,-0.11L1,-0.11L1,0.11L-1,0.11Z M-0.2,0A0.2,0.2,0,1,1,0.2,0A0.2,0.2,0,1,1,-0.2,0Z' : 'M-0.23,0A0.23,0.23,0,1,1,0.23,0A0.23,0.23,0,1,1,-0.23,0Z'"}
           }}}}}}},
    {"mark": {"type": "circle", "size": 36, "opacity": 1},
     "encoding": {"y": {"field": "n3", "type": "quantitative", "title": "x(t)", "scale": {"domain": [-0.384, 1.124], "nice": false, "zero": false}, "axis": {"values": [-0.2, 0, 0.2, 0.4, 0.6, 0.8, 1.0], "format": ".1f", "labelOverlap": false, "tickCount": 7}},
       "color": {"datum": "Noisy data (component 3)", "type": "nominal",
         "legend": {"title": null, "orient": "none", "legendX": 108, "legendY": 2.5,
           "encode": {"symbols": {"update": {
             "shape": {"signal": "indexof(datum.label, 'Fitted') >= 0 ? 'M-1,-0.11L1,-0.11L1,0.11L-1,0.11Z M-0.2,0A0.2,0.2,0,1,1,0.2,0A0.2,0.2,0,1,1,-0.2,0Z' : 'M-0.23,0A0.23,0.23,0,1,1,0.23,0A0.23,0.23,0,1,1,-0.23,0Z'"}
           }}}}}}},
    {"mark": {"type": "line", "strokeWidth": 2.5, "point": {"filled": true, "size": 16}},
     "encoding": {"y": {"field": "f3", "type": "quantitative", "title": "x(t)", "scale": {"domain": [-0.384, 1.124], "nice": false, "zero": false}, "axis": {"values": [-0.2, 0, 0.2, 0.4, 0.6, 0.8, 1.0], "format": ".1f", "labelOverlap": false, "tickCount": 7}},
       "color": {"datum": "Fitted model (component 3, α₃=1.0425 ± 0.2786)", "type": "nominal",
         "legend": {"title": null, "orient": "none", "legendX": 108, "legendY": 2.5,
           "encode": {"symbols": {"update": {
             "shape": {"signal": "indexof(datum.label, 'Fitted') >= 0 ? 'M-1,-0.11L1,-0.11L1,0.11L-1,0.11Z M-0.2,0A0.2,0.2,0,1,1,0.2,0A0.2,0.2,0,1,1,-0.2,0Z' : 'M-0.23,0A0.23,0.23,0,1,1,0.23,0A0.23,0.23,0,1,1,-0.23,0Z'"}
           }}}}}}}
  ]
},
{
  "width": 388, "height": 194,
  "encoding": {
    "x": {"field": "n", "type": "quantitative", "title": "Iteration (n)", "scale": {"type": "log", "domain": [0.62, 16000], "nice": false},
      "axis": {"values": [0.7,0.8,0.9,1,2,3,4,5,6,7,8,9,10,20,30,40,50,60,70,80,90,100,200,300,400,500,600,700,800,900,1000,2000,3000,4000,5000,6000,7000,8000,9000,10000],
        "labelExpr": "abs(log(datum.value)/LN10 - round(log(datum.value)/LN10)) < 0.001 ? '10' + ['⁰','¹','²','³','⁴','⁵','⁶','⁷'][round(log(datum.value)/LN10)] : ''",
        "tickSize": {"condition": {"test": "abs(log(datum.value)/LN10 - round(log(datum.value)/LN10)) < 0.001", "value": 3.5}, "value": 2}}}
  },
  "layer": [
    {"data": {"name": "energyBand"}, "mark": {"type": "area", "color": "blue", "opacity": 0.2, "clip": true},
     "encoding": {"y": {"field": "lo", "type": "quantitative", "title": "Energy (E(n))", "scale": {"type": "log", "domain": [0.221, 10000], "nice": false},
        "axis": {"values": [0.3,0.4,0.5,0.6,0.7,0.8,0.9,1,2,3,4,5,6,7,8,9,10,20,30,40,50,60,70,80,90,100,200,300,400,500,600,700,800,900,1000,2000,3000,4000,5000,6000,7000,8000,9000,10000],
          "labelExpr": "abs(log(datum.value)/LN10 - round(log(datum.value)/LN10)) < 0.001 ? '10' + ['⁰','¹','²','³','⁴','⁵','⁶','⁷'][round(log(datum.value)/LN10)] : ''",
          "tickSize": {"condition": {"test": "abs(log(datum.value)/LN10 - round(log(datum.value)/LN10)) < 0.001", "value": 3.5}, "value": 2}}},
       "y2": {"field": "hi"}}},
    {"data": {"name": "energy"}, "mark": {"type": "line", "color": "blue", "strokeWidth": 1.5, "clip": true},
     "encoding": {"y": {"field": "v", "type": "quantitative", "title": "Energy (E(n))"}}},
    {"data": {"name": "energy"}, "mark": {"type": "circle", "color": "blue", "size": 45, "opacity": 1, "clip": true},
     "encoding": {"y": {"field": "v", "type": "quantitative", "title": "Energy (E(n))"}}}
  ]
},
{
  "width": 388, "height": 195,
  "encoding": {
    "x": {"field": "n", "type": "quantitative", "title": "Iteration (n)", "scale": {"type": "log", "domain": [0.62, 16000], "nice": false},
      "axis": {"values": [0.7,0.8,0.9,1,2,3,4,5,6,7,8,9,10,20,30,40,50,60,70,80,90,100,200,300,400,500,600,700,800,900,1000,2000,3000,4000,5000,6000,7000,8000,9000,10000],
        "labelExpr": "abs(log(datum.value)/LN10 - round(log(datum.value)/LN10)) < 0.001 ? '10' + ['⁰','¹','²','³','⁴','⁵','⁶','⁷'][round(log(datum.value)/LN10)] : ''",
        "tickSize": {"condition": {"test": "abs(log(datum.value)/LN10 - round(log(datum.value)/LN10)) < 0.001", "value": 3.5}, "value": 2}}}
  },
  "layer": [
    {"data": {"name": "entropyBand"}, "mark": {"type": "area", "color": "green", "opacity": 0.2, "clip": true},
     "encoding": {"y": {"field": "lo", "type": "quantitative", "title": "Entropy (S(n))", "scale": {"type": "log", "domain": [1.026, 4.96], "nice": false},
        "axis": {"values": [2, 3, 4], "labelExpr": "datum.value + '×10⁰'", "labelFontSize": 8, "tickSize": 2}},
       "y2": {"field": "hi"}}},
    {"data": {"name": "entropy"}, "mark": {"type": "line", "color": "green", "strokeWidth": 1.5, "clip": true},
     "encoding": {"y": {"field": "v", "type": "quantitative", "title": "Entropy (S(n))"}}},
    {"data": {"name": "entropy"}, "mark": {"type": "circle", "color": "green", "size": 45, "opacity": 1, "clip": true},
     "encoding": {"y": {"field": "v", "type": "quantitative", "title": "Entropy (S(n))"}}}
  ]
},
{
  "width": 388, "height": 195,
  "encoding": {
    "x": {"field": "n", "type": "quantitative", "title": "Iteration (n)", "scale": {"type": "log", "domain": [0.62, 16000], "nice": false},
      "axis": {"values": [0.7,0.8,0.9,1,2,3,4,5,6,7,8,9,10,20,30,40,50,60,70,80,90,100,200,300,400,500,600,700,800,900,1000,2000,3000,4000,5000,6000,7000,8000,9000,10000],
        "labelExpr": "abs(log(datum.value)/LN10 - round(log(datum.value)/LN10)) < 0.001 ? '10' + ['⁰','¹','²','³','⁴','⁵','⁶','⁷'][round(log(datum.value)/LN10)] : ''",
        "tickSize": {"condition": {"test": "abs(log(datum.value)/LN10 - round(log(datum.value)/LN10)) < 0.001", "value": 3.5}, "value": 2}}}
  },
  "layer": [
    {"data": {"name": "costBand"}, "mark": {"type": "area", "color": "red", "opacity": 0.2, "clip": true},
     "encoding": {"y": {"field": "lo", "type": "quantitative", "title": "Cost (C(n))", "scale": {"type": "log", "domain": [1, 42000000], "nice": false},
        "axis": {"values": [1,2,3,4,5,6,7,8,9,10,20,30,40,50,60,70,80,90,100,200,300,400,500,600,700,800,900,1000,2000,3000,4000,5000,6000,7000,8000,9000,10000,20000,30000,40000,50000,60000,70000,80000,90000,100000,200000,300000,400000,500000,600000,700000,800000,900000,1000000,2000000,3000000,4000000,5000000,6000000,7000000,8000000,9000000,10000000,20000000,30000000,40000000],
          "labelExpr": "abs(log(datum.value)/LN10 - round(log(datum.value)/LN10)) < 0.001 ? '10' + ['⁰','¹','²','³','⁴','⁵','⁶','⁷'][round(log(datum.value)/LN10)] : ''",
          "tickSize": {"condition": {"test": "abs(log(datum.value)/LN10 - round(log(datum.value)/LN10)) < 0.001", "value": 3.5}, "value": 2}}},
       "y2": {"field": "hi"}}},
    {"data": {"name": "cost"}, "mark": {"type": "line", "color": "red", "strokeWidth": 1.5, "clip": true},
     "encoding": {"y": {"field": "v", "type": "quantitative", "title": "Cost (C(n))"}}},
    {"data": {"name": "cost"}, "mark": {"type": "circle", "color": "red", "size": 45, "opacity": 1, "clip": true},
     "encoding": {"y": {"field": "v", "type": "quantitative", "title": "Cost (C(n))"}}}
  ]
}
]
}
